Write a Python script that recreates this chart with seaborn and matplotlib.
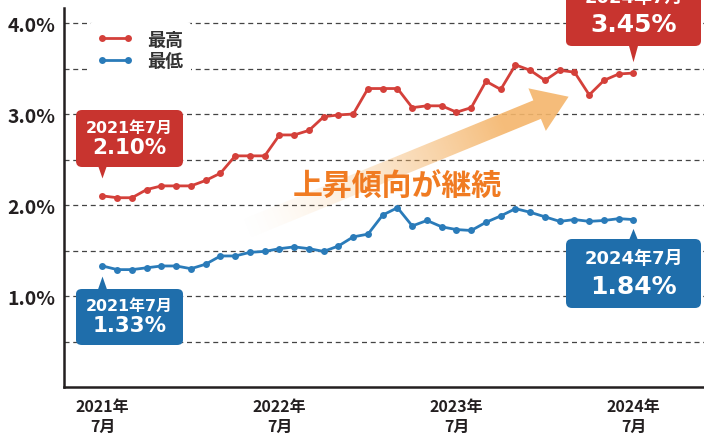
import numpy as np
import pandas as pd
import matplotlib
matplotlib.use("Agg")
import matplotlib.pyplot as plt
import seaborn as sns
from matplotlib.lines import Line2D
from matplotlib.path import Path
from matplotlib.patches import Polygon
from matplotlib.offsetbox import TextArea, VPacker, DrawingArea, AnnotationBbox
from matplotlib.transforms import ScaledTranslation

# monthly rates, 2021/7 .. 2024/7
months = pd.period_range("2021-07", "2024-07", freq="M")
high = [2.10, 2.08, 2.08, 2.17, 2.21, 2.21, 2.21, 2.27, 2.35, 2.54, 2.54, 2.54,
        2.77, 2.77, 2.82, 2.97, 2.99, 3.00, 3.28, 3.28, 3.28, 3.07, 3.09, 3.09,
        3.02, 3.07, 3.36, 3.27, 3.54, 3.48, 3.37, 3.48, 3.46, 3.21, 3.37, 3.44, 3.45]
low = [1.33, 1.29, 1.29, 1.31, 1.33, 1.33, 1.30, 1.35, 1.44, 1.44, 1.48, 1.49,
       1.52, 1.54, 1.52, 1.49, 1.55, 1.65, 1.68, 1.89, 1.97, 1.77, 1.83, 1.76,
       1.73, 1.72, 1.81, 1.88, 1.96, 1.92, 1.87, 1.82, 1.84, 1.82, 1.83, 1.85, 1.84]
series_names = ["最高", "最低"]
tick_idx = [0, 12, 24, 36]
tick_labels = ["2021年\n7月", "2022年\n7月", "2023年\n7月", "2024年\n7月"]
y_ticks = [1.0, 2.0, 3.0, 4.0]
y_labels = ["1.0%", "2.0%", "3.0%", "4.0%"]
trend_label = "上昇傾向が継続"

RED = "#d4403a"
RED_BOX = "#c8342f"
BLUE = "#2a7bb9"
BLUE_BOX = "#1f6eab"
ORANGE = "#f07b22"
ARROW = (0.96, 0.71, 0.42)
INK = "#231f20"

sns.set_style("white")
plt.rcParams["font.family"] = ["Noto Sans CJK JP", "DejaVu Sans"]
BOX_FONT = ["DejaVu Sans", "Noto Sans CJK JP"]

n = len(months)
df = pd.DataFrame({
    "idx": np.tile(np.arange(n), 2),
    "rate": high + low,
    "kind": [series_names[0]] * n + [series_names[1]] * n,
})

fig = plt.figure(figsize=(7.04, 4.39), dpi=100)
ax = fig.add_axes([64 / 704, 51 / 439, 640 / 704, 379 / 439])
XLIM = (-2.61, 40.78)
YLIM = (0, 4.165)
ax.set_xlim(*XLIM)
ax.set_ylim(*YLIM)

sns.lineplot(data=df, x="idx", y="rate", hue="kind", palette=[RED, BLUE],
             marker="o", markersize=5, markeredgewidth=0, linewidth=2,
             legend=False, ax=ax, zorder=4)
ax.set_xlim(*XLIM)
ax.set_ylim(*YLIM)

# grid / axes
ax.set_yticks(y_ticks)
ax.set_yticklabels(y_labels)
ax.set_yticks(np.arange(0.5, 4.01, 0.5), minor=True)
ax.yaxis.grid(True, which="both", ls=(0, (4, 3)), color="#444444", lw=0.9)
ax.tick_params(axis="y", which="both", length=0, pad=6, labelsize=14,
               labelcolor=INK)
for lab in ax.get_yticklabels():
    lab.set_fontweight("bold")

ax.set_xticks(tick_idx)
ax.set_xticklabels(tick_labels, fontweight="bold", linespacing=1.3)
ax.set_xticks(range(n), minor=True)
ax.tick_params(axis="x", which="major", direction="in", length=14, width=1,
               pad=8, labelsize=11.5, labelcolor=INK, color=INK)
ax.tick_params(axis="x", which="minor", direction="in", length=7, width=0.9,
               color=INK)
ax.set_xlabel("")
ax.set_ylabel("")
sns.despine(ax=ax)
for s in ["left", "bottom"]:
    ax.spines[s].set_linewidth(1.8)
    ax.spines[s].set_color(INK)

# trend arrow with fading tail
tail = ax.transData.transform((9.3, 1.71))
tip = ax.transData.transform((31.6, 3.19))
d = tip - tail
L = np.hypot(*d)
u = d / L
nv = np.array([-u[1], u[0]])
hw, hhw, hl = 10, 23, 34
base = tail + u * (L - hl)
verts = np.array([tail + nv * hw, base + nv * hw, base + nv * hhw, tip,
                  base - nv * hhw, base - nv * hw, tail - nv * hw])
verts_d = ax.transData.inverted().transform(verts)
clip = Polygon(verts_d, closed=True, fc="none", ec="none", transform=ax.transData)
x0, y0 = verts_d.min(axis=0)
x1, y1 = verts_d.max(axis=0)
gx, gy = np.meshgrid(np.linspace(x0, x1, 300), np.linspace(y0, y1, 150))
pts = ax.transData.transform(np.column_stack([gx.ravel(), gy.ravel()]))
t = ((pts - tail) @ u / L).reshape(gx.shape)
alpha = np.clip(t / 0.8, 0, 1) ** 1.5 * 0.9
img = np.zeros(gx.shape + (4,))
img[..., :3] = ARROW
img[..., 3] = alpha
im = ax.imshow(img, extent=(x0, x1, y0, y1), origin="lower", aspect="auto",
               interpolation="bilinear", zorder=2)
im.set_clip_path(clip)
ax.set_xlim(*XLIM)
ax.set_ylim(*YLIM)

ax.text(20, 2.21, trend_label, fontsize=21.5, fontweight="bold", color=ORANGE,
        ha="center", va="center", zorder=3)


def pointer(down, ratio):
    # triangle marker, height = ms, width = ratio * ms
    s = 0.5 if down else -0.5
    return Path([(-ratio / 2, s), (ratio / 2, s), (0, -s), (-ratio / 2, s)], closed=True)


def callout(i, val, ym, pct, color, dx, dy, small, big, width, sep,
            tri_dy, tri_h, tri_ratio):
    top = TextArea(ym, textprops=dict(color="white", fontsize=small,
                                      fontweight="bold", family=BOX_FONT))
    bot = TextArea(pct, textprops=dict(color="white", fontsize=big,
                                       fontweight="bold", family=BOX_FONT))
    lines = VPacker(children=[top, bot], align="center", pad=0, sep=sep)
    pack = VPacker(children=[DrawingArea(width, 0), lines], align="center",
                   pad=0, sep=0)
    ab = AnnotationBbox(pack, (i, val), xybox=(dx, dy), boxcoords="offset points",
                        frameon=True, annotation_clip=False, zorder=5,
                        bboxprops=dict(boxstyle="round,pad=0.7,rounding_size=0.4",
                                       fc=color, ec="none"))
    ax.add_artist(ab)
    off = ScaledTranslation(0, tri_dy / 72, fig.dpi_scale_trans)
    ax.plot([i], [val], marker=pointer(tri_dy > 0, tri_ratio), ms=tri_h,
            color=color, mew=0, transform=ax.transData + off, zorder=6,
            clip_on=False)


callout(0, high[0], "2021年7月", f"{high[0]:.2f}%", RED_BOX,
        19.4, 41.4, 11.4, 15.4, 60, 1.5, 17.6, 10, 0.7)
callout(0, low[0], "2021年7月", f"{low[0]:.2f}%", BLUE_BOX,
        19.4, -36.6, 11.4, 15.4, 60, 1.5, -12.2, 10, 0.7)
callout(36, high[-1], "2024年7月", f"{high[-1]:.2f}%", RED_BOX,
        0, 44, 13, 18, 83, 4.9, 15.5, 14, 0.55)
callout(36, low[-1], "2024年7月", f"{low[-1]:.2f}%", BLUE_BOX,
        0, -38.9, 13, 18, 83, 4.9, -11.2, 9.5, 0.8)

handles = [Line2D([], [], color=RED, lw=2, marker="o", ms=5, mew=0),
           Line2D([], [], color=BLUE, lw=2, marker="o", ms=5, mew=0)]
leg = ax.legend(handles, series_names, loc="upper left", bbox_to_anchor=(0.04, 0.962),
                numpoints=2, frameon=True, framealpha=1, edgecolor="none",
                facecolor="white", handlelength=2.0, handletextpad=0.8,
                labelspacing=0.15, borderpad=0.4, borderaxespad=0,
                prop=dict(size=13, weight="bold"))
for txt in leg.get_texts():
    txt.set_color("#333333")

fig.savefig("out.png", dpi=100)
